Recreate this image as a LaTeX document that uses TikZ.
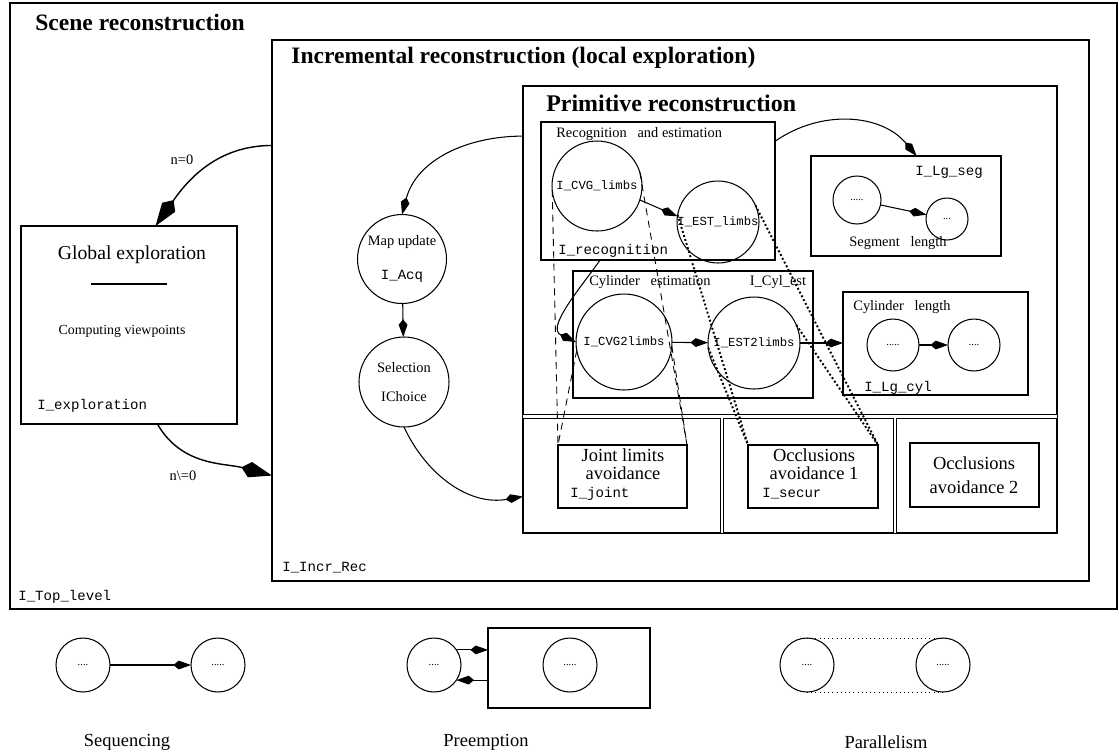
\documentclass[tikz,border=0pt]{standalone}
\usepackage{fontspec}
\setmainfont{Liberation Serif}
\setmonofont{Liberation Mono}
\usetikzlibrary{arrows.meta,fit}

\begin{document}
\begin{tikzpicture}[x=0.02cm,y=-0.02cm,
    box/.style={draw,rectangle,inner sep=0pt,outer sep=0pt,line width=0.6pt},
    bigbox/.style={box,line width=1pt},
    proc/.style={draw,circle,inner sep=0pt,outer sep=0pt,line width=0.6pt,align=center},
    arr/.style={-{Kite[length=10pt,width=5pt,inset=3pt]},line width=0.6pt},
    bigarr/.style={-{Kite[length=18pt,width=9pt,inset=5pt]},line width=0.8pt},
    lim/.style={dash pattern=on 4pt off 3pt,line width=0.5pt},
    occ/.style={line width=1.1pt,dash pattern=on 1.1pt off 1.3pt},
    ttl/.style={anchor=west,inner sep=0pt,font=\bfseries\fontsize{13.4}{15}\selectfont},
    txt/.style={font=\fontsize{8.2}{10}\selectfont},
    big/.style={font=\fontsize{10.5}{11}\selectfont,align=center},
    code/.style={inner sep=0pt,font=\ttfamily\fontsize{8}{9}\selectfont},
    dots/.style={font=\fontsize{6}{7}\selectfont}]
    \useasboundingbox (0,0) rectangle (1119,755);

    \node[bigbox,fit={(10,3) (1117,609)}] (scene) {};
    \node[ttl] (scenettl) at (35,22) {Scene reconstruction};
    \node[code,anchor=west] (scenecode) at (18,597) {I\_Top\_level};

    \node[bigbox,fit={(272,40) (1089,581)}] (incr) {};
    \node[ttl] (incrttl) at (291,58) {Incremental reconstruction (local exploration)};
    \node[code,anchor=west] (incrcode) at (282,568) {I\_Incr\_Rec};

    \node[bigbox,fit={(523,86) (1057,533)}] (prim) {};
    \node[ttl,font=\bfseries\fontsize{13.6}{15}\selectfont] (primttl) at (546,103) {Primitive reconstruction};

    \node[bigbox,fit={(21,226) (237,424)}] (global) {};
    \node[big,font=\fontsize{11.2}{12}\selectfont] (globalttl) at (132,255) {Global exploration};
    \draw[line width=0.9pt] (91,284) -- (167,284);
    \node[txt,font=\fontsize{7.9}{9}\selectfont] (globaltxt) at (122,331) {Computing viewpoints};
    \node[code,anchor=west] (globalcode) at (37,406) {I\_exploration};

    \draw[bigarr] (incr.158) to[out=180,in=55] (global.75);
    \node[txt] (nzero) at (182,160) {n=0};
    \draw[bigarr] (global.-74) to[out=-60,in=165] (incr.202);
    \node[txt] (nnzero) at (183,476) {n\textbackslash=0};

    \node[proc,minimum size=1.78cm] (map) at (402,259) {\fontsize{8.2}{10}\selectfont Map update\\[7pt]\ttfamily\fontsize{8}{9}\selectfont I\_Acq};
    \node[proc,minimum size=1.80cm] (sel) at (404,382) {\fontsize{8.2}{10}\selectfont Selection\\[5pt]\fontsize{8.2}{10}\selectfont IChoice};
    \draw[arr] (prim.147) to[out=180,in=75] (map.north);
    \draw[arr] (map) -- (sel);
    \draw[arr] (sel.south) to[out=-65,in=190] (prim.215);

    \node[box,fit={(541,122) (775,260)}] (recog) {};
    \node[txt,anchor=west,inner sep=0pt] (recogttl) at (556,134) {Recognition\ \ \ and estimation};
    \node[code,anchor=west] (recogcode) at (558,251) {I\_recognition};
    \node[proc,minimum size=1.80cm,font=\ttfamily\fontsize{7}{8}\selectfont] (cvg) at (597,186) {I\_CVG\_limbs};
    \node[proc,minimum size=1.64cm,font=\ttfamily\fontsize{7}{8}\selectfont] (est) at (718,222) {I\_EST\_limbs};
    \draw[arr] (cvg.-18) -- (est.172);

    \node[box,fit={(811,156) (1001,256)}] (seg) {};
    \node[code] (segcode) at (949,172) {I\_Lg\_seg};
    \node[proc,minimum size=0.96cm,dots] (sega) at (857,200) {.....};
    \node[proc,minimum size=0.84cm,dots] (segb) at (947,219) {...};
    \draw[arr] (sega) -- (segb);
    \node[txt] (segttl) at (898,243) {Segment\ \ \ length};
    \draw[arr] (recog.23) to[out=35,in=130] (seg.78);

    \node[box,fit={(573,271) (813,398)}] (cyl) {};
    \node[txt] (cylttl) at (650,282) {Cylinder\ \ \ estimation};
    \node[txt] (cylcode) at (778,282) {I\_Cyl\_est};
    \node[proc,minimum size=1.92cm,font=\ttfamily\fontsize{7}{8}\selectfont] (cvgtwo) at (624,342) {I\_CVG2limbs};
    \node[proc,minimum size=1.84cm,font=\ttfamily\fontsize{7}{8}\selectfont] (esttwo) at (754,343) {I\_EST2limbs};
    \draw[arr] (cvgtwo) -- (esttwo);
    \draw[arr] (recog.-130) to[out=235,in=155] (cvgtwo.west);

    \node[box,fit={(843,292) (1028,395)}] (lgcyl) {};
    \node[txt] (lgcylttl) at (902,307) {Cylinder\ \ \ length};
    \node[proc,minimum size=1.04cm,dots] (lgcyla) at (893,345) {.....};
    \node[proc,minimum size=1.04cm,dots] (lgcylb) at (974,345) {....};
    \draw[arr] (lgcyla) -- (lgcylb);
    \node[code] (lgcylcode) at (898,388) {I\_Lg\_cyl};
    \draw[arr] (esttwo.east) -- (esttwo.east -| lgcyl.west);

    \draw[line width=0.6pt,double distance=1.6pt] (523,416.5) -- (1057,416.5);
    \draw[line width=0.6pt,double distance=1.6pt] (722,418) -- (722,533);
    \draw[line width=0.6pt,double distance=1.6pt] (895,418) -- (895,533);

    \node[box,fit={(558,445) (687,508)}] (joint) {};
    \node[big,font=\fontsize{10.5}{10}\selectfont] (jointttl) at (623,464) {Joint limits\\avoidance};
    \node[code,anchor=west] (jointcode) at (570,494) {I\_joint};
    \node[box,fit={(748,445) (878,508)}] (occa) {};
    \node[big,font=\fontsize{10.5}{10}\selectfont] (occattl) at (814,464) {Occlusions\\avoidance 1};
    \node[code,anchor=west] (occacode) at (762,494) {I\_secur};
    \node[box,fit={(910,443) (1039,507)}] (occb) {};
    \node[big,font=\fontsize{10.5}{14}\selectfont] (occbttl) at (974,475) {Occlusions\\avoidance 2};

    \draw[lim] (cvg.185) -- (joint.north west);
    \draw[lim] (cvg.18) -- (joint.north east);
    \draw[lim] (cvgtwo.190) -- (joint.north west);
    \draw[lim] (cvgtwo.-5) -- (joint.north east);
    \draw[occ] (est.170) -- (occa.north west);
    \draw[occ] (est.24) -- (occa.north east);
    \draw[occ] (esttwo.186) -- (occa.north west);
    \draw[occ] (esttwo.23) -- (occa.north east);

    \node[proc,minimum size=1.08cm,dots] (seqa) at (83,665) {....};
    \node[proc,minimum size=1.08cm,dots] (seqb) at (218,665) {.....};
    \draw[arr] (seqa) -- (seqb);
    \node[big] (seqttl) at (127,742) {Sequencing};

    \node[proc,minimum size=1.08cm,dots] (prea) at (434,665) {....};
    \node[box,fit={(488,628) (650,708)}] (prebox) {};
    \node[proc,minimum size=1.08cm,dots] (preb) at (570,665) {.....};
    \draw[arr] (prea.34) -- (prea.34 -| prebox.west);
    \draw[arr] (prea.-34 -| prebox.west) -- (prea.-34);
    \node[big] (prettl) at (486,742) {Preemption};

    \node[proc,minimum size=1.08cm,dots] (para) at (807,665) {....};
    \node[proc,minimum size=1.08cm,dots] (parb) at (943,665) {.....};
    \draw[dotted] (para.north) -- (parb.north);
    \draw[dotted] (para.south) -- (parb.south);
    \node[big] (parttl) at (886,742) {Parallelism};
\end{tikzpicture}
\end{document}
